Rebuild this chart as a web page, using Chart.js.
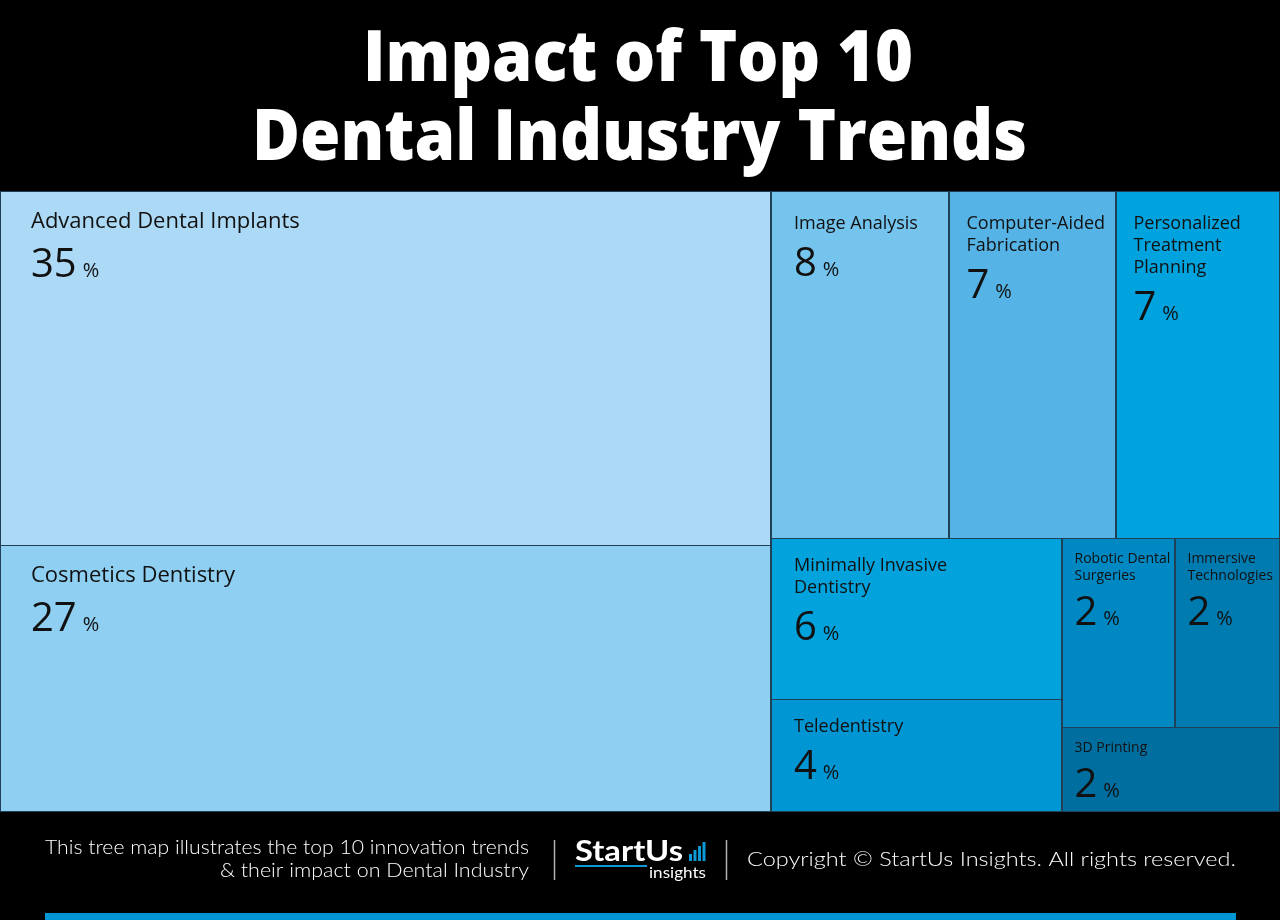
<!DOCTYPE html>
<html>
<head>
<meta charset="utf-8">
<title>Impact of Top 10 Dental Industry Trends</title>
<script src="https://cdn.jsdelivr.net/npm/chart.js@4.4.1/dist/chart.umd.min.js"></script>
<style>
    html, body { margin: 0; padding: 0; background: #000; }
    #wrap { width: 1280px; height: 920px; }
</style>
</head>
<body>
<div id="wrap"><canvas id="trendChart" width="1280" height="920"></canvas></div>
<script>
// trends, in the order the tree map lays them out
const trends = [
    'Advanced Dental Implants', 'Cosmetics Dentistry', 'Image Analysis',
    'Computer-Aided Fabrication', 'Personalized Treatment Planning',
    'Minimally Invasive Dentistry', 'Teledentistry', 'Robotic Dental Surgeries',
    'Immersive Technologies', '3D Printing'
];
// the rounded numbers printed in each cell
const impactLabel = [35, 27, 8, 7, 7, 6, 4, 2, 2, 2];
// the share each cell covers
const impactShare = [34.4, 25.8, 7.8, 7.3, 7.2, 5.9, 4.1, 2.7, 2.5, 2.3];

const palette = [
    '#acdaf6', '#8ecff2', '#74c4ee', '#55b4e5', '#00a3de',
    '#02a3dd', '#0096d3', '#0088c2', '#007bb0', '#006e9e'
];

// squarified layout (same steps as d3.treemapSquarify)
function squarify(values, W, H) {
    const ratio = (1 + Math.sqrt(5)) / 2;
    const out = [];
    let x0 = 0, y0 = 0, x1 = W, y1 = H;
    let value = values.reduce((a, b) => a + b, 0);
    let i0 = 0, i1 = 0;
    const n = values.length;
    while (i0 < n) {
        const dx = x1 - x0, dy = y1 - y0;
        let sumValue = values[i1++];
        let minValue = sumValue, maxValue = sumValue;
        const alpha = Math.max(dy / dx, dx / dy) / (value * ratio);
        let beta = sumValue * sumValue * alpha;
        let minRatio = Math.max(maxValue / beta, beta / minValue);
        for (; i1 < n; ++i1) {
            const v = values[i1];
            sumValue += v;
            if (v < minValue) minValue = v;
            if (v > maxValue) maxValue = v;
            beta = sumValue * sumValue * alpha;
            const newRatio = Math.max(maxValue / beta, beta / minValue);
            if (newRatio > minRatio) { sumValue -= v; break; }
            minRatio = newRatio;
        }
        if (dx < dy) {
            // row along the top
            const h = dy * sumValue / value;
            let x = x0;
            for (let k = i0; k < i1; k++) {
                const w = dx * values[k] / sumValue;
                out[k] = { x0: x, y0: y0, x1: x + w, y1: y0 + h };
                x += w;
            }
            y0 += h;
        } else {
            // column on the left
            const w = dx * sumValue / value;
            let y = y0;
            for (let k = i0; k < i1; k++) {
                const h = dy * values[k] / sumValue;
                out[k] = { x0: x0, y0: y, x1: x0 + w, y1: y + h };
                y += h;
            }
            x0 += w;
        }
        value -= sumValue;
        i0 = i1;
    }
    return out;
}

function wrapWords(ctx, text, maxWidth) {
    const words = text.split(' ');
    const lines = [];
    let line = '';
    words.forEach(w => {
        const test = line ? line + ' ' + w : w;
        if (line && ctx.measureText(test).width > maxWidth) {
            lines.push(line);
            line = w;
        } else {
            line = test;
        }
    });
    if (line) lines.push(line);
    return lines;
}

// draw text squeezed or stretched to a given width
function fitText(ctx, text, x, y, font, width, align) {
    ctx.save();
    ctx.font = font;
    const natural = ctx.measureText(text).width;
    const s = width / natural;
    let left = x;
    if (align === 'center') left = x - width / 2;
    if (align === 'right') left = x - width;
    ctx.translate(left, y);
    ctx.scale(s, 1);
    ctx.textAlign = 'left';
    ctx.fillText(text, 0, 0);
    ctx.restore();
}

const treemapCells = {
    id: 'treemapCells',
    beforeDatasetsDraw(chart) {
        const { ctx, chartArea, scales } = chart;
        const W = chartArea.right - chartArea.left;
        const H = chartArea.bottom - chartArea.top;
        const rects = squarify(impactShare, W, H);
        ctx.save();
        rects.forEach((r, i) => {
            const x0 = Math.round(scales.x.getPixelForValue(r.x0 / W * 100));
            const x1 = Math.round(scales.x.getPixelForValue(r.x1 / W * 100));
            const y0 = Math.round(scales.y.getPixelForValue(r.y0 / H * 100));
            const y1 = Math.round(scales.y.getPixelForValue(r.y1 / H * 100));
            const w = x1 - x0, h = y1 - y0;
            ctx.fillStyle = palette[i];
            ctx.fillRect(x0, y0, w, h);
            ctx.strokeStyle = '#1f4157';
            ctx.lineWidth = 1;
            ctx.strokeRect(x0 + 0.5, y0 + 0.5, w - 1, h);

            // label style depends on cell size
            const share = impactShare[i];
            const atTop = y0 <= chartArea.top + 1;
            let fs, pad, top, lineH, gap, maxW;
            if (share >= 20) { fs = 22; pad = 31; top = 37; lineH = 25; gap = 49; maxW = w * 0.7; }
            else if (share >= 4) { fs = 18; pad = w > 170 ? 23 : 17.5; top = atTop ? 38 : 33; lineH = 22; gap = 47; maxW = w * 0.7; }
            else { fs = 14; pad = 12.5; top = 25; lineH = 17; gap = 45; maxW = w - pad - 3; }

            ctx.fillStyle = '#111';
            ctx.textAlign = 'left';
            ctx.textBaseline = 'alphabetic';
            ctx.font = fs + 'px "Open Sans"';
            const lines = wrapWords(ctx, trends[i], maxW);
            const base = y0 + top;
            lines.forEach((ln, k) => {
                ctx.fillText(ln, x0 + pad, base + k * lineH);
            });
            const numBase = base + (lines.length - 1) * lineH + gap;
            ctx.font = '40px "Open Sans"';
            const num = String(impactLabel[i]);
            ctx.fillText(num, x0 + pad, numBase);
            const nw = ctx.measureText(num).width;
            ctx.font = '20px "Open Sans"';
            ctx.fillText('%', x0 + pad + nw + 6, numBase);
        });
        ctx.restore();
    },
    afterDraw(chart) {
        const { ctx } = chart;
        ctx.save();
        ctx.fillStyle = '#fff';
        ctx.textBaseline = 'alphabetic';

        // title
        fitText(ctx, 'Impact of Top 10', 638, 81, '800 70px "Open Sans"', 550, 'center');
        fitText(ctx, 'Dental Industry Trends', 639.5, 160, '800 70px "Open Sans"', 775, 'center');

        // footer note
        fitText(ctx, 'This tree map illustrates the top 10 innovation trends', 529, 854, '300 19px Lato', 484, 'right');
        fitText(ctx, '& their impact on Dental Industry', 529, 877, '300 19px Lato', 309, 'right');

        // dividers
        ctx.strokeStyle = '#b0b0b0';
        ctx.lineWidth = 1.5;
        ctx.beginPath();
        ctx.moveTo(554.5, 840); ctx.lineTo(554.5, 880);
        ctx.moveTo(726.5, 840); ctx.lineTo(726.5, 880);
        ctx.stroke();

        // logo
        fitText(ctx, 'StartUs', 575, 861, '700 28px Lato', 108, 'left');
        ctx.fillStyle = '#0a9ad8';
        [7, 11, 15, 19].forEach((bh, k) => {
            ctx.fillRect(689 + k * 4.5, 861 - bh, 3, bh);
        });
        ctx.fillRect(575, 865, 72, 2);
        ctx.fillStyle = '#fff';
        fitText(ctx, 'insights', 649, 878, '400 16px Lato', 57, 'left');

        // copyright
        fitText(ctx, 'Copyright \u00a9 StartUs Insights. All rights reserved.', 747, 866, '300 19px Lato', 489, 'left');

        // bottom bar
        ctx.fillStyle = '#0096d6';
        ctx.fillRect(45, 913, 1191, 7);
        ctx.restore();
    }
};

const ctx = document.getElementById('trendChart').getContext('2d');
const trendChart = new Chart(ctx, {
    type: 'scatter',
    data: {
        datasets: [{
            label: 'Impact',
            data: []
        }]
    },
    options: {
        responsive: false,
        animation: false,
        devicePixelRatio: 1,
        layout: {
            padding: { top: 191, bottom: 109, left: 0, right: 0 }
        },
        plugins: {
            legend: { display: false },
            tooltip: { enabled: false }
        },
        scales: {
            x: { type: 'linear', min: 0, max: 100, display: false },
            y: { type: 'linear', min: 0, max: 100, reverse: true, display: false }
        }
    },
    plugins: [treemapCells]
});
</script>
</body>
</html>
